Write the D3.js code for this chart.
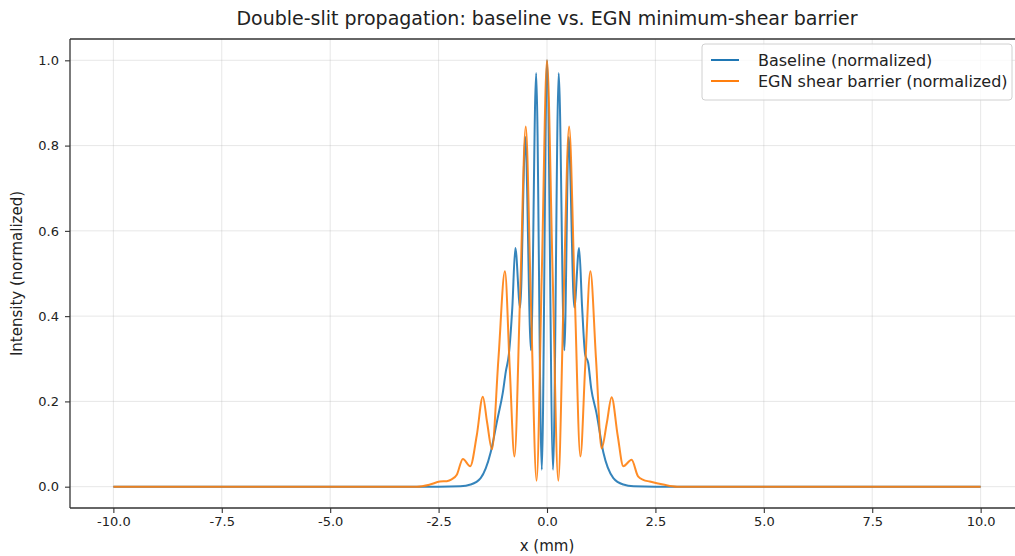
<!DOCTYPE html>
<html>
<head>
<meta charset="utf-8">
<script src="https://cdn.jsdelivr.net/npm/d3@7"></script>
<style>
  html, body { margin: 0; padding: 0; background: #fff; }
  svg { display: block; font-family: "DejaVu Sans", sans-serif; }
</style>
</head>
<body>
<svg id="chart" width="1015" height="556"></svg>
<script>
// ---- data ----
const titleText = "Double-slit propagation: baseline vs. EGN minimum-shear barrier";
const xLabelText = "x (mm)";
const yLabelText = "Intensity (normalized)";
const seriesNames = ["Baseline (normalized)", "EGN shear barrier (normalized)"];

const xTicks = [-10, -7.5, -5, -2.5, 0, 2.5, 5, 7.5, 10];
const xTickLabels = ["-10.0", "-7.5", "-5.0", "-2.5", "0.0", "2.5", "5.0", "7.5", "10.0"];
const yTicks = [0, 0.2, 0.4, 0.6, 0.8, 1.0];
const yTickLabels = ["0.0", "0.2", "0.4", "0.6", "0.8", "1.0"];

// Baseline (blue)
const baselineX = [-10, -3.0, -2.5, -2.0, -1.76, -1.53, -1.3, -1.14, -1.02, -0.95, -0.88, -0.8, -0.73,
  -0.62, -0.5, -0.37, -0.25, -0.12, 0,
  0.14, 0.27, 0.4, 0.5, 0.63, 0.74, 0.81, 0.88, 0.95, 1.02, 1.14, 1.3, 1.53, 1.76, 2.0, 2.5, 3.0, 10];
const baselineY = [0, 0, 0, 0.001, 0.005, 0.02, 0.08, 0.16, 0.22, 0.27, 0.31, 0.42, 0.56,
  0.42, 0.82, 0.32, 0.97, 0.04, 1.0,
  0.04, 0.97, 0.32, 0.82, 0.42, 0.56, 0.42, 0.31, 0.29, 0.23, 0.173, 0.08, 0.02, 0.005, 0.001, 0, 0, 0];

// EGN shear barrier (orange)
const egnX = [-10, -3.0, -2.7, -2.47, -2.31, -2.2, -2.08, -1.94, -1.77, -1.62, -1.48, -1.38, -1.27,
  -1.12, -0.97, -0.86, -0.75, -0.62, -0.49, -0.37, -0.24, -0.12, 0,
  0.13, 0.26, 0.38, 0.51, 0.64, 0.77, 0.88, 1.0, 1.13, 1.26, 1.38, 1.49, 1.63, 1.76, 1.95, 2.1, 2.22,
  2.37, 2.68, 3.0, 10];
const egnY = [0, 0, 0.005, 0.012, 0.013, 0.017, 0.028, 0.065, 0.048, 0.12, 0.211, 0.15, 0.088,
  0.3, 0.505, 0.28, 0.071, 0.45, 0.845, 0.43, 0.014, 0.5, 1.0,
  0.5, 0.014, 0.43, 0.845, 0.45, 0.071, 0.28, 0.505, 0.3, 0.09, 0.15, 0.21, 0.12, 0.048, 0.063, 0.024, 0.016,
  0.012, 0.005, 0, 0];

const seriesColors = ["#1f77b4", "#ff7f0e"];

// ---- layout ----
const W = 1015, H = 556;
const plot = { left: 70, right: 1024, top: 39, bottom: 508 };

const svg = d3.select("#chart");
const x = d3.scaleLinear().domain([-11, 11]).range([plot.left, plot.right]);
const y = d3.scaleLinear().domain([-0.05, 1.05]).range([plot.bottom, plot.top]);

// grid
const grid = svg.append("g").attr("class", "grid");
grid.selectAll("line.gx").data(xTicks).enter().append("line")
  .attr("x1", d => x(d)).attr("x2", d => x(d))
  .attr("y1", plot.top).attr("y2", plot.bottom)
  .attr("stroke", "#b0b0b0").attr("stroke-opacity", 0.3).attr("stroke-width", 1);
grid.selectAll("line.gy").data(yTicks).enter().append("line")
  .attr("x1", plot.left).attr("x2", plot.right)
  .attr("y1", d => y(d)).attr("y2", d => y(d))
  .attr("stroke", "#b0b0b0").attr("stroke-opacity", 0.3).attr("stroke-width", 1);

// lines
const line = d3.line().x(d => x(d[0])).y(d => y(d[1])).curve(d3.curveMonotoneX);
const series = [
  d3.zip(baselineX, baselineY),
  d3.zip(egnX, egnY)
];
svg.append("g").selectAll("path.series").data(series).enter().append("path")
  .attr("class", "series")
  .attr("d", line)
  .attr("fill", "none")
  .attr("stroke", (d, i) => seriesColors[i])
  .attr("stroke-width", 2)
  .attr("stroke-opacity", 0.9)
  .attr("stroke-linejoin", "round");

// axes
const xAxis = d3.axisBottom(x).tickValues(xTicks)
  .tickFormat((d, i) => xTickLabels[i]).tickSize(5).tickPadding(4);
const yAxis = d3.axisLeft(y).tickValues(yTicks)
  .tickFormat((d, i) => yTickLabels[i]).tickSize(5).tickPadding(6);

const gx = svg.append("g").attr("transform", `translate(0,${plot.bottom})`).call(xAxis);
const gy = svg.append("g").attr("transform", `translate(${plot.left},0)`).call(yAxis);
[gx, gy].forEach(g => {
  g.select(".domain").remove();
  g.selectAll(".tick line").attr("stroke", "#333").attr("stroke-width", 1.1);
  g.selectAll(".tick text").attr("fill", "#222").style("font-size", "13px")
    .style("font-family", "'DejaVu Sans', sans-serif");
});

// spines (top, left, bottom; right is beyond the canvas)
const sp = svg.append("g").attr("stroke", "#333").attr("stroke-width", 1.3).attr("fill", "none");
sp.append("line").attr("x1", plot.left).attr("x2", plot.right).attr("y1", plot.top).attr("y2", plot.top);
sp.append("line").attr("x1", plot.left).attr("x2", plot.right).attr("y1", plot.bottom).attr("y2", plot.bottom);
sp.append("line").attr("x1", plot.left).attr("x2", plot.left).attr("y1", plot.top).attr("y2", plot.bottom);

// title & labels
svg.append("text").attr("x", (plot.left + plot.right) / 2).attr("y", 25)
  .attr("text-anchor", "middle").style("font-size", "19px").attr("fill", "#222").text(titleText);
svg.append("text").attr("x", (plot.left + plot.right) / 2).attr("y", 551)
  .attr("text-anchor", "middle").style("font-size", "15px").attr("fill", "#222").text(xLabelText);
svg.append("text").attr("transform", `translate(22,${(plot.top + plot.bottom) / 2}) rotate(-90)`)
  .attr("text-anchor", "middle").style("font-size", "15px").attr("fill", "#222").text(yLabelText);

// legend
const lg = svg.append("g").attr("transform", "translate(702,44)");
lg.append("rect").attr("x", 0).attr("y", 0).attr("width", 310).attr("height", 56)
  .attr("rx", 3).attr("fill", "#fff").attr("fill-opacity", 0.8)
  .attr("stroke", "#d0d0d0").attr("stroke-width", 1);
seriesNames.forEach((name, i) => {
  const yy = 16 + i * 21;
  lg.append("line").attr("x1", 9).attr("x2", 37).attr("y1", yy).attr("y2", yy)
    .attr("stroke", seriesColors[i]).attr("stroke-width", 2);
  lg.append("text").attr("x", 56).attr("y", yy).attr("dy", "0.35em")
    .style("font-size", "16px").attr("fill", "#222").text(name);
});
</script>
</body>
</html>
